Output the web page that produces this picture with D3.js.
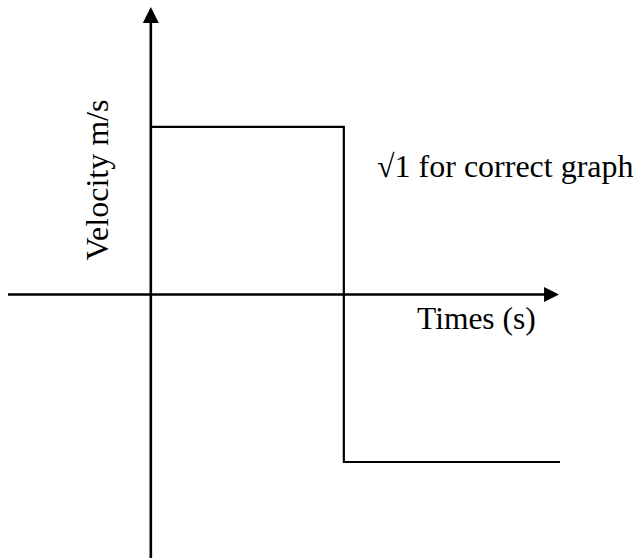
<!DOCTYPE html>
<html>
<head>
<meta charset="utf-8">
<script src="https://cdn.jsdelivr.net/npm/d3@7"></script>
<style>
  html, body { margin: 0; padding: 0; background: #fff; }
  svg text { font-family: "Liberation Serif", "DejaVu Serif", serif; fill: #000; }
</style>
</head>
<body>
<svg id="chart" width="636" height="560"></svg>
<script>
// velocity-time step graph: +v, then -v after the turn-round
const times = [0, 1, 2.12];        // step edges (arbitrary time units)
const velocities = [1, -1];        // velocity on each interval
const xExtent = [-0.74, 2.115];    // time axis from left end to arrow tip
const yExtent = [-1.573, 1.716];   // velocity axis from bottom to arrow tip
const xLabel = 'Times (s)';
const yLabel = 'Velocity m/s';
const note = '\u221A1 for correct graph';

const svg = d3.select('#chart');

const x = d3.scaleLinear().domain([xExtent[0], times[times.length - 1]]).range([8, 560]);
const y = d3.scaleLinear().domain(yExtent).range([558, 7]);

// step points: each interval is a flat segment joined by vertical jumps
const stepPts = [];
velocities.forEach((v, i) => {
  stepPts.push([times[i], v]);
  stepPts.push([times[i + 1], v]);
});

const line = d3.line().x(d => x(d[0])).y(d => y(d[1]));

// axes
svg.append('path')
  .attr('d', line([[xExtent[0], 0], [xExtent[1] - 0.07, 0]]))
  .attr('stroke', '#000')
  .attr('stroke-width', 2.6)
  .attr('fill', 'none');

svg.append('path')
  .attr('d', line([[0, yExtent[0]], [0, yExtent[1] - 0.09]]))
  .attr('stroke', '#000')
  .attr('stroke-width', 2.6)
  .attr('fill', 'none');

// arrow heads
const tx = x(xExtent[1]), ty = y(0);
svg.append('path')
  .attr('d', `M${tx},${ty} L${tx - 15},${ty - 7.5} L${tx - 15},${ty + 7.5} Z`)
  .attr('fill', '#000');

const ux = x(0), uy = y(yExtent[1]);
svg.append('path')
  .attr('d', `M${ux},${uy} L${ux - 8},${uy + 16} L${ux + 8},${uy + 16} Z`)
  .attr('fill', '#000');

// the graph itself
svg.append('path')
  .attr('d', line(stepPts))
  .attr('stroke', '#000')
  .attr('stroke-width', 2.2)
  .attr('fill', 'none');

// labels
svg.append('text')
  .attr('x', 417)
  .attr('y', 329)
  .attr('font-size', 31.5)
  .text(xLabel);

svg.append('text')
  .attr('transform', 'translate(108,180) rotate(-90)')
  .attr('text-anchor', 'middle')
  .attr('font-size', 32)
  .text(yLabel);

svg.append('text')
  .attr('x', 377)
  .attr('y', 177)
  .attr('font-size', 32)
  .text(note);
</script>
</body>
</html>
